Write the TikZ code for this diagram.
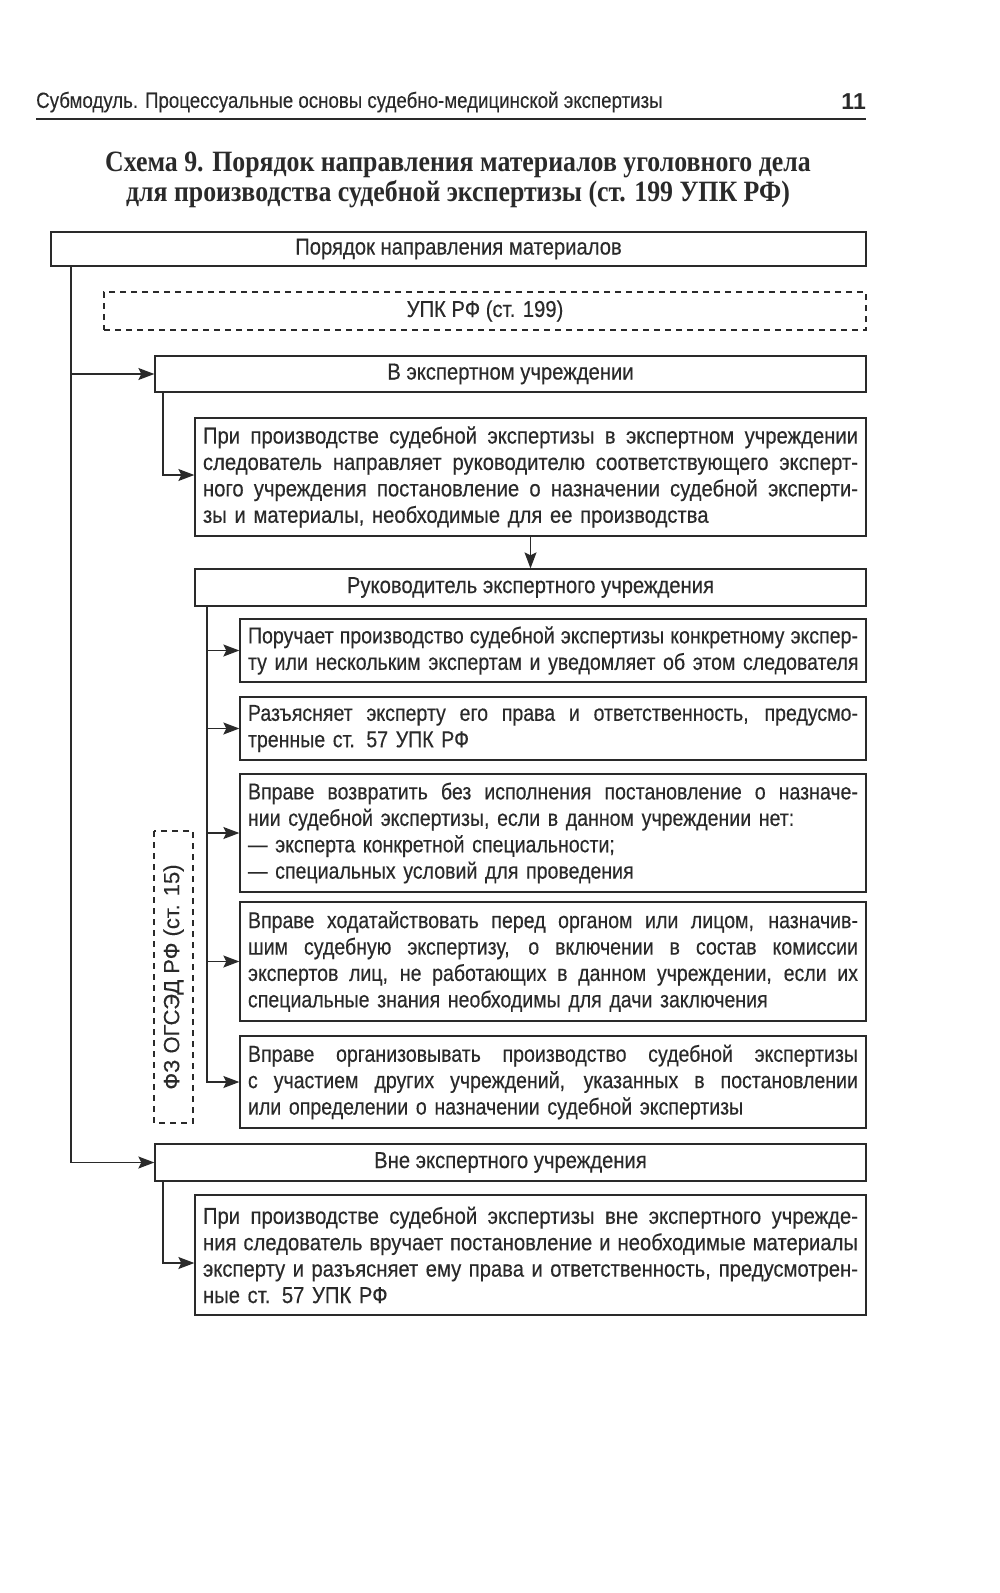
\documentclass[tikz,border=0pt]{standalone}
\usepackage{fontspec}
\setmainfont{Liberation Sans}
\newfontfamily\bodyf[FakeStretch=0.88,FakeBold=0.3]{Liberation Sans}
\newfontfamily\multf[FakeStretch=0.85,FakeBold=0.3]{Liberation Sans}
\newfontfamily\vertf[FakeBold=0.2]{Liberation Sans}
\newfontfamily\hdrf[FakeStretch=0.85,FakeBold=0.2]{Liberation Sans}
\newfontfamily\titlef[FakeStretch=0.875]{Liberation Serif}
\usetikzlibrary{arrows.meta}
\setlength{\parindent}{0pt}
\newcommand\jl[1]{\makebox[\hsize][s]{\spaceskip=0pt\xspaceskip=0pt #1}\\}
\newcommand\lastl[1]{\mbox{#1}}
\definecolor{ink}{HTML}{2A2A2A}
\begin{document}
\begin{tikzpicture}[x=1pt,y=-1pt,
  txt/.style={font=\bodyf\fontsize{23}{26.4}\selectfont, text=ink},
  box/.style={txt, draw=ink, line width=1.3pt, inner ysep=0pt, inner xsep=8pt, anchor=center},
  dbox/.style={box, line width=1.1pt, dash pattern=on 6pt off 5pt},
  wbox/.style={box},
  mbox/.style={box, font=\multf\fontsize{23}{26.4}\selectfont},
  conn/.style={draw=ink, line width=1.2pt, -{Stealth[length=16pt,width=12pt,inset=3pt]}}]
\useasboundingbox[fill=white] (0,0) rectangle (1000,1593);

% header
\node[anchor=west, inner sep=0pt, text=ink, font=\hdrf\fontsize{22}{24}\selectfont] (hdr) at (36,102) {Субмодуль. Процессуальные основы судебно-медицинской экспертизы};
\node[anchor=east, inner sep=0pt, text=ink, font=\bfseries\fontsize{23}{24}\selectfont] (pg) at (866,102) {11};
\coordinate (r1) at (36,119);
\coordinate (r2) at (866,119);
\draw[ink, line width=1.5pt] (r1) -- (r2);

% title
\node[align=center, inner sep=0pt, text=ink, font=\titlef\bfseries\fontsize{29.5}{30}\selectfont] (title) at (458,180)
  {Схема 9. Порядок направления материалов уголовного дела\\для производства судебной экспертизы (ст. 199 УПК РФ)};

% boxes
\node[box, minimum width=815pt, minimum height=34pt] (top) at (458.5,249) {Порядок направления материалов};
\node[dbox, minimum width=762pt, minimum height=38pt] (upk) at (485,311) {УПК РФ (ст. 199)};
\node[box, minimum width=711pt, minimum height=36pt] (vu) at (510.5,374) {В экспертном учреждении};
\node[wbox, text width=655pt, minimum height=118pt] (p1) at (530.5,477)
  {\jl{При производстве судебной экспертизы в экспертном учреждении}\jl{следователь направляет руководителю соответствующего эксперт-}\jl{ного учреждения постановление о назначении судебной эксперти-}\lastl{зы и материалы, необходимые для ее производства}};
\node[box, minimum width=671pt, minimum height=37pt] (ruk) at (530.5,587.5) {Руководитель экспертного учреждения};
\node[mbox, text width=610pt, minimum height=63pt] (sa) at (553,650.5)
  {\jl{Поручает производство судебной экспертизы конкретному экспер-}\lastl{ту или нескольким экспертам и уведомляет об этом следователя}};
\node[mbox, text width=610pt, minimum height=63pt] (sb) at (553,728.5)
  {\jl{Разъясняет эксперту его права и ответственность, предусмо-}\lastl{тренные ст. 57 УПК РФ}};
\node[mbox, text width=610pt, minimum height=118pt] (sc) at (553,833)
  {\jl{Вправе возвратить без исполнения постановление о назначе-}\lastl{нии судебной экспертизы, если в данном учреждении нет:}\\\lastl{— эксперта конкретной специальности;}\\\lastl{— специальных условий для проведения}};
\node[mbox, text width=610pt, minimum height=119pt] (sd) at (553,961.5)
  {\jl{Вправе ходатайствовать перед органом или лицом, назначив-}\jl{шим судебную экспертизу, о включении в состав комиссии}\jl{экспертов лиц, не работающих в данном учреждении, если их}\lastl{специальные знания необходимы для дачи заключения}};
\node[mbox, text width=610pt, minimum height=92pt] (se) at (553,1082)
  {\jl{Вправе организовывать производство судебной экспертизы}\jl{с участием других учреждений, указанных в постановлении}\lastl{или определении о назначении судебной экспертизы}};
\node[dbox, rotate=90, minimum width=292pt, minimum height=39pt, font=\vertf\fontsize{22}{24}\selectfont] (fz) at (173.5,977) {ФЗ ОГСЭД РФ (ст. 15)};
\node[box, minimum width=711pt, minimum height=37pt] (vne) at (510.5,1162.5) {Вне экспертного учреждения};
\node[wbox, text width=655pt, minimum height=120pt] (p2) at (530.5,1255)
  {\jl{При производстве судебной экспертизы вне экспертного учрежде-}\jl{ния следователь вручает постановление и необходимые материалы}\jl{эксперту и разъясняет ему права и ответственность, предусмотрен-}\lastl{ные ст. 57 УПК РФ}};

% connectors
\coordinate (tx) at (71,0);
\coordinate (vx) at (163,0);
\coordinate (rx) at (207,0);
\draw[conn] (top.south -| tx) |- (vne.west);
\draw[conn] (tx |- vu.west) -- (vu.west);
\draw[conn] (vu.south -| vx) |- ([yshift=2pt]p1.west);
\draw[conn] (p1.south) -- (ruk.north);
\draw[conn] (ruk.south -| rx) |- (se.west);
\foreach \n in {sa,sb,sc,sd} \draw[conn] (rx |- \n.west) -- (\n.west);
\draw[conn] (vne.south -| vx) |- ([yshift=-8pt]p2.west);
\end{tikzpicture}
\end{document}
